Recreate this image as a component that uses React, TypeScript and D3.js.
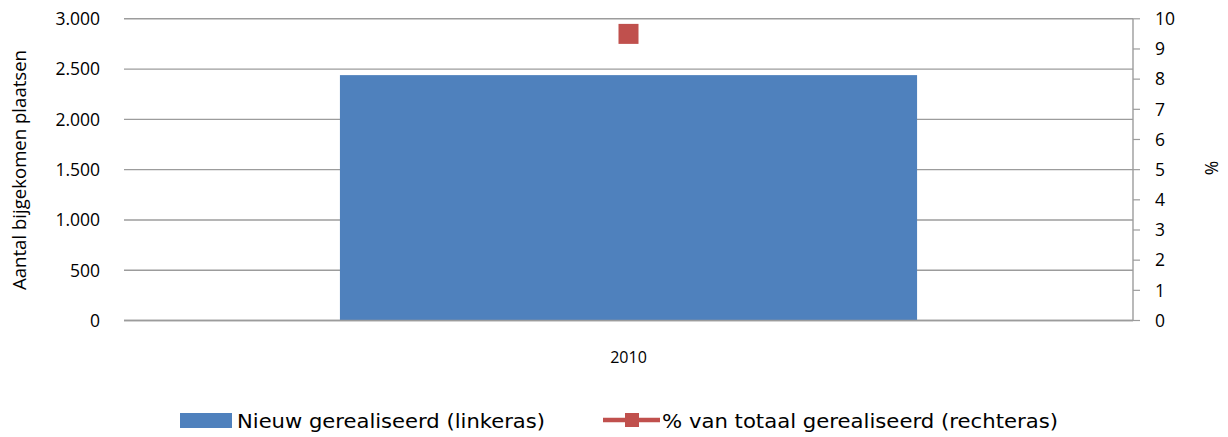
import React from "react";
import * as d3 from "d3";

const categories = ["2010"];
const nieuwGerealiseerd = [2440];
const pctVanTotaal = [9.5];
const leftTicks = [0, 500, 1000, 1500, 2000, 2500, 3000];
const rightTicks = [0, 1, 2, 3, 4, 5, 6, 7, 8, 9, 10];
const seriesNames = ["Nieuw gerealiseerd (linkeras)", "% van totaal gerealiseerd (rechteras)"];

const W = 1228, H = 437;
const plot = { left: 124, right: 1133, top: 18.8, bottom: 320.5 };
const FONT = "'Open Sans', 'DejaVu Sans', sans-serif";
const LEG_FONT = "'DejaVu Sans', Verdana, sans-serif";
const BLUE = "#4F81BD";
const RED = "#C0504D";
const GRID = "#9C9C9C";

export default function App() {
  const x = d3.scaleBand<string>().domain(categories).range([plot.left, plot.right]).paddingInner(0.428).paddingOuter(0.214);
  const yL = d3.scaleLinear().domain([0, 3000]).range([plot.bottom, plot.top]);
  const yR = d3.scaleLinear().domain([0, 10]).range([plot.bottom, plot.top]);
  const fmt = (v: number) => d3.format(",")(v).replace(/,/g, ".");
  const bw = (plot.right - plot.left) * 0.572;
  return (
    <svg width={W} height={H} style={{ position: "absolute", left: 0, top: 0, background: "#fff" }}>
      {leftTicks.map((t) => (
        <g key={"l" + t}>
          <line x1={plot.left} x2={plot.right} y1={yL(t)} y2={yL(t)} stroke={GRID} strokeWidth={1.4} />
          <text x={100} y={yL(t)} dy="0.36em" textAnchor="end" fontFamily={FONT} fontSize={17.5} fill="#000">{fmt(t)}</text>
        </g>
      ))}
      <line x1={plot.right} x2={plot.right} y1={plot.top} y2={plot.bottom} stroke={GRID} strokeWidth={1.4} />
      {rightTicks.map((t) => (
        <g key={"r" + t}>
          <line x1={plot.right} x2={plot.right + 7} y1={yR(t)} y2={yR(t)} stroke={GRID} strokeWidth={1.2} />
          <text x={1155} y={yR(t)} dy="0.36em" textAnchor="start" fontFamily={FONT} fontSize={17.5} fill="#000">{t}</text>
        </g>
      ))}
      {categories.map((c, i) => {
        const cx = (x(c) as number) + x.bandwidth() / 2;
        return (
          <g key={c}>
            <rect x={cx - bw / 2} y={yL(nieuwGerealiseerd[i])} width={bw} height={plot.bottom - yL(nieuwGerealiseerd[i])} fill={BLUE} />
            <rect x={cx - 10} y={yR(pctVanTotaal[i]) - 10} width={20} height={20} fill={RED} />
            <text x={cx} y={357} dy="0.36em" textAnchor="middle" fontFamily={FONT} fontSize={16} fill="#000">{c}</text>
          </g>
        );
      })}
      <line x1={plot.left} x2={plot.right} y1={plot.bottom} y2={plot.bottom} stroke={GRID} strokeWidth={1.4} />
      <text transform={`translate(20,170) rotate(-90)`} textAnchor="middle" dy="0.36em" fontFamily={FONT} fontSize={17.5} textLength={240} lengthAdjust="spacingAndGlyphs" fill="#000">Aantal bijgekomen plaatsen</text>
      <text transform={`translate(1212,168) rotate(-90)`} textAnchor="middle" dy="0.36em" fontFamily={FONT} fontSize={17.5} fill="#000">%</text>
      <rect x={180} y={413} width={52} height={15} fill={BLUE} />
      <text x={237} y={421} dy="0.36em" fontFamily={LEG_FONT} fontSize={19.5} textLength={308} lengthAdjust="spacingAndGlyphs" fill="#000">{seriesNames[0]}</text>
      <line x1={603} x2={660} y1={420} y2={420} stroke={RED} strokeWidth={4.5} />
      <rect x={625} y={413} width={14} height={14} fill={RED} />
      <text x={662} y={421} dy="0.36em" fontFamily={LEG_FONT} fontSize={19.5} textLength={396} lengthAdjust="spacingAndGlyphs" fill="#000">{seriesNames[1]}</text>
    </svg>
  );
}
